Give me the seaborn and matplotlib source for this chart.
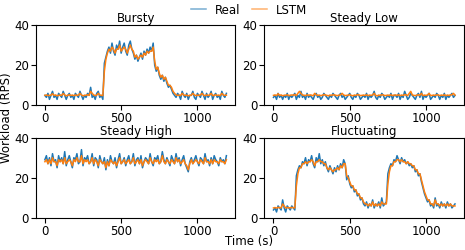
import numpy as np
import pandas as pd
import matplotlib
matplotlib.use('Agg')
import matplotlib.pyplot as plt
import seaborn as sns

# workload traces, one sample every 10 s
step = 10

bursty_real = [5, 4, 6, 3, 5, 7, 4, 5, 3, 6, 5, 4, 7, 5, 3, 5, 6, 4, 5, 3,
               6, 5, 4, 7, 5, 3, 5, 4, 6, 5, 9, 4, 5, 3, 6, 7, 4, 5, 3,
               21, 24, 27, 29, 26, 31, 27, 25, 30, 28, 32, 26, 29, 31, 27, 25, 30, 32, 28, 26,
               23, 25, 22, 24, 26, 23, 27, 25, 28, 26, 29, 27, 31, 20, 17, 19, 15, 13, 15, 12,
               14, 11, 9, 10, 8, 6, 5,
               4, 6, 5, 3, 7, 5, 4, 6, 3, 5, 5, 7, 4, 3, 6, 5, 4, 7, 5, 3,
               6, 4, 5, 7, 3, 5, 6, 4, 5, 3, 7, 5, 4, 6]
bursty_lstm = [5, 5.2, 4.9, 5, 5.1, 5.8, 5, 5.2, 4.8, 5, 5.1, 5, 5.9, 5.2, 4.8, 5, 5.3, 5, 5.1, 4.9,
               5.2, 5, 5.1, 6, 5.2, 4.8, 5, 5.1, 5.3, 5, 7, 6, 5.2, 4.9, 5.1, 6, 5.2, 5, 4.9,
               17, 23, 26, 28, 27, 29, 28, 26, 28, 28, 30, 27, 28, 29, 28, 26, 28, 30, 28, 27,
               24, 25, 23, 24, 25, 24, 26, 25, 27, 26, 27, 27, 29, 22, 18, 19, 16, 14, 15, 13,
               14, 12, 10, 10, 9, 7, 6,
               5.2, 5, 5.1, 4.9, 6, 5.2, 5, 5.1, 4.8, 5, 5.1, 6, 5.2, 4.9, 5.1, 5, 5.2, 6, 5.1, 4.9,
               5.2, 5, 5.1, 6, 4.9, 5, 5.3, 5, 5.1, 4.9, 6, 5.2, 5, 5.1]

low_real = [4, 5, 3, 6, 4, 5, 3, 5, 4, 6, 3, 5, 4, 5, 6, 3, 5, 4, 7, 4,
            5, 3, 6, 4, 5, 4, 3, 5, 6, 4, 5, 3, 4, 6, 5, 4, 3, 5, 4, 6,
            5, 4, 3, 5, 6, 4, 5, 3, 4, 5, 6, 4, 3, 5, 4, 6, 5, 3, 4, 5,
            4, 6, 3, 5, 4, 5, 7, 4, 3, 5, 4, 6, 5, 3, 4, 5, 4, 6, 3, 5,
            5, 4, 6, 3, 5, 4, 7, 5, 3, 4, 6, 5, 4, 3, 5, 6, 4, 7, 3, 5,
            4, 5, 6, 3, 4, 5, 4, 6, 5, 3, 5, 4, 6, 3, 5, 4, 5, 6, 4, 5]
low_lstm = [5, 5.2, 4.9, 5.8, 5, 5.2, 4.8, 5, 5.1, 5.3, 4.9, 5, 5.2, 5.1, 5.4, 4.9, 6, 7, 6, 5.2,
            5, 4.9, 5.3, 5, 5.2, 5.1, 4.8, 6, 5.3, 5, 5.1, 4.9, 5, 5.4, 5.2, 5, 4.8, 5.1, 5, 5.3,
            5.2, 5, 4.9, 5.1, 5.3, 6, 5.2, 4.9, 5, 5.1, 5.3, 5, 4.8, 5.1, 5, 5.4, 5.2, 4.9, 5, 5.1,
            5, 5.3, 4.9, 5.1, 5, 5.2, 6, 5, 4.8, 5.1, 5, 5.3, 5.2, 4.9, 5, 5.1, 5, 5.3, 4.9, 5.1,
            5.2, 5, 5.3, 4.9, 5.1, 5, 5.4, 5.2, 4.9, 6, 7, 5.2, 5, 4.9, 5.1, 5.3, 5, 6, 4.9, 5.1,
            5, 5.2, 6, 4.9, 5, 5.1, 5, 5.3, 5.2, 4.9, 5.1, 5, 5.3, 4.9, 5.1, 5, 5.2, 5.3, 6, 5.1]

high_real = [29, 31, 27, 30, 26, 32, 28, 29, 25, 31, 28, 30, 27, 33, 26, 29, 31, 28, 25, 30,
             29, 32, 27, 28, 34, 26, 30, 29, 31, 27, 28, 32, 26, 30, 29, 25, 31, 28, 27, 30,
             24, 29, 26, 31, 28, 27, 30, 25, 29, 32, 27, 28, 30, 26, 29, 31, 27, 28, 32, 26,
             29, 30, 27, 31, 25, 28, 30, 29, 27, 32, 28, 26, 30, 29, 31, 27, 28, 33, 29, 27,
             30, 28, 26, 31, 29, 27, 32, 28, 30, 26, 29, 31, 27, 25, 23, 28, 30, 27, 29, 31,
             28, 26, 30, 29, 27, 32, 28, 29, 26, 30, 27, 31, 29, 28, 26, 30, 28, 29, 27, 31]
high_lstm = [28, 29, 27, 29, 27, 30, 28, 28, 26, 29, 28, 29, 27, 30, 27, 28, 29, 28, 26, 29,
             28, 30, 28, 28, 31, 27, 29, 28, 29, 27, 28, 30, 27, 29, 28, 26, 29, 28, 27, 28,
             25, 28, 26, 29, 28, 27, 28, 26, 28, 30, 27, 28, 29, 27, 28, 29, 27, 28, 30, 27,
             28, 29, 27, 29, 26, 28, 29, 28, 27, 30, 28, 27, 29, 28, 29, 27, 28, 31, 28, 27,
             29, 28, 27, 29, 28, 27, 30, 28, 29, 27, 28, 29, 27, 26, 24, 27, 29, 27, 28, 29,
             28, 27, 29, 28, 27, 30, 28, 28, 27, 29, 27, 29, 28, 28, 27, 29, 28, 28, 27, 29]

fluct_real = [4, 5, 3, 6, 5, 4, 9, 5, 3, 6, 5, 4, 6, 5, 4, 21, 24, 26, 25, 28,
              27, 30, 26, 29, 28, 31, 27, 25, 30, 28, 32, 27, 29, 26, 28, 25, 23, 26, 24, 22,
              25, 23, 26, 24, 27, 25, 29, 27, 19, 21, 17, 15, 16, 13, 14, 11, 12, 9, 10, 7,
              6, 8, 5, 7, 6, 9, 5, 7, 6, 8, 5, 10, 6, 7, 8, 22, 25, 27, 26, 29,
              28, 31, 29, 27, 30, 28, 29, 27, 28, 26, 27, 25, 26, 23, 24, 21, 22, 18, 15, 12,
              10, 8, 9, 6, 7, 5, 10, 6, 7, 5, 8, 6, 7, 5, 8, 6, 7, 5, 6, 7]
fluct_lstm = [5, 5.2, 4.9, 5.3, 5.1, 5, 7, 6, 5, 5.2, 5.1, 5, 5.3, 5.1, 5, 16, 22, 25, 25, 27,
              27, 28, 27, 28, 28, 29, 28, 26, 28, 28, 29, 28, 28, 27, 27, 25, 24, 25, 24, 23,
              24, 24, 25, 24, 26, 25, 27, 27, 21, 20, 18, 16, 16, 14, 14, 12, 12, 10, 10, 8,
              7, 7, 6, 7, 6, 8, 6, 7, 6, 7, 6, 8, 7, 7, 7, 17, 23, 26, 26, 28,
              28, 29, 29, 28, 29, 28, 28, 27, 28, 27, 27, 26, 26, 24, 24, 22, 22, 19, 16, 13,
              11, 9, 9, 7, 7, 6, 9, 7, 7, 6, 7, 6, 7, 6, 7, 6, 7, 6, 6, 6]

panels = [('Bursty', bursty_real, bursty_lstm),
          ('Steady Low', low_real, low_lstm),
          ('Steady High', high_real, high_lstm),
          ('Fluctuating', fluct_real, fluct_lstm)]

fs = 8.5
plt.rcParams['font.size'] = fs
palette = {'Real': '#1f77b4', 'LSTM': '#ff7f0e'}

fig, axes = plt.subplots(2, 2, figsize=(4.65, 2.5), dpi=100)
fig.subplots_adjust(left=0.077, right=0.998, top=0.9, bottom=0.128, wspace=0.145, hspace=0.4)

for ax, (title, real, lstm) in zip(axes.flat, panels):
    t = np.arange(len(real)) * step
    df = pd.DataFrame({'t': np.concatenate([t, t]),
                       'rps': np.concatenate([real, lstm]),
                       'series': ['Real'] * len(real) + ['LSTM'] * len(lstm)})
    sns.lineplot(data=df, x='t', y='rps', hue='series', palette=palette,
                 linewidth=1.1, ax=ax, legend=(title == 'Bursty'))
    ax.set_title(title, fontsize=fs, pad=2)
    ax.set_ylim(0, 40)
    ax.set_yticks([0, 20, 40])
    ax.set_xticks([0, 500, 1000])
    ax.set_xlabel('')
    ax.set_ylabel('')
    ax.tick_params(labelsize=fs, pad=1.5)

handles, labels = axes[0, 0].get_legend_handles_labels()
axes[0, 0].get_legend().remove()
for h in handles:
    h.set_alpha(0.6)
fig.legend(handles, labels, loc='upper center', bbox_to_anchor=(0.535, 1.028), ncol=2,
           frameon=False, fontsize=fs, handlelength=1.3, handletextpad=0.7, columnspacing=1.0)

fig.text(0.001, 0.528, 'Workload (RPS)', rotation=90, ha='left', va='center', fontsize=fs)
fig.text(0.535, 0.006, 'Time (s)', ha='center', va='bottom', fontsize=fs)

plt.savefig('out.png', dpi=100)
plt.close()
